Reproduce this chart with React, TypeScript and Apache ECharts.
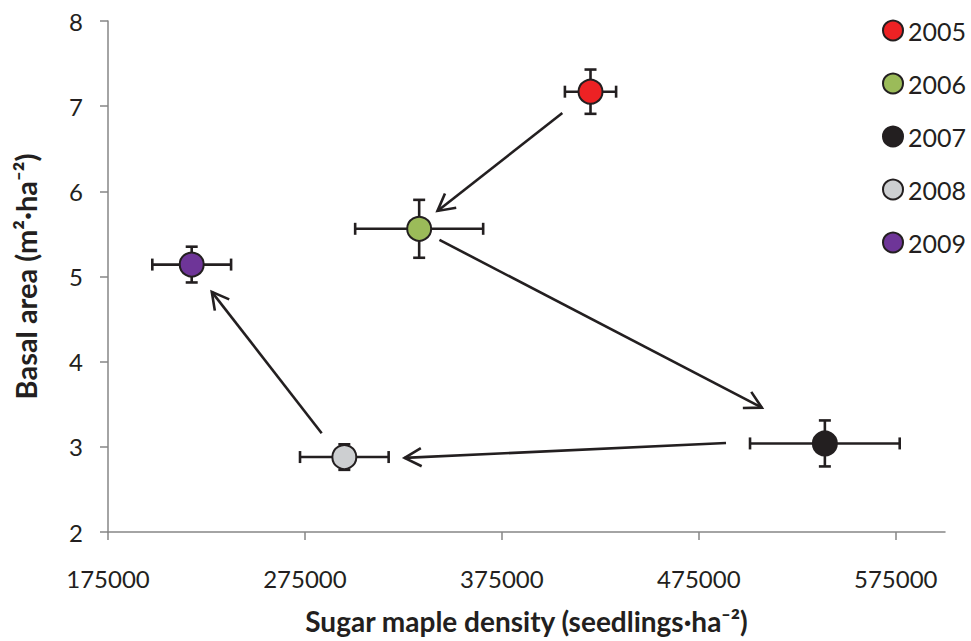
import React, { useEffect, useRef } from "react";
import * as echarts from "echarts";

const years = ["2005", "2006", "2007", "2008", "2009"];
const density = [420000, 333000, 539000, 295000, 217500];
const densityErr = [13000, 32500, 38000, 22500, 20000];
const basal = [7.17, 5.56, 3.04, 2.88, 5.14];
const basalErr = [0.26, 0.34, 0.27, 0.15, 0.21];
const colors = ["#ED2224", "#9BBB59", "#231F20", "#CDCFD1", "#6E3598"];
const xTicks = [175000, 275000, 375000, 475000, 575000];
// arrows: [fromX, fromY, toX, toY] (data units)
const arrowFromX = [405700, 343300, 488800, 283500];
const arrowFromY = [6.92, 5.43, 3.045, 3.16];
const arrowToX = [342300, 507000, 325600, 227700];
const arrowToY = [5.77, 3.46, 2.87, 4.82];

const FONT = "Lato";
const INK = "#231F20";

export default function App() {
  const ref = useRef<HTMLDivElement>(null);
  useEffect(() => {
    if (!ref.current) return;
    const chart = echarts.init(ref.current, null, { renderer: "svg" });

    const errData = years.map((_, i) => [density[i], basal[i], densityErr[i], basalErr[i]]);
    const arrowData = arrowFromX.map((_, i) => [arrowFromX[i], arrowFromY[i], arrowToX[i], arrowToY[i]]);

    const option: any = {
      animation: false,
      backgroundColor: "#ffffff",
      textStyle: { fontFamily: FONT },
      grid: { left: 108, right: 26, top: 21, bottom: 109, containLabel: false, outerBoundsMode: "none" },
      legend: {
        orient: "vertical",
        right: 0,
        top: 13,
        itemWidth: 20,
        itemHeight: 20,
        itemGap: 28,
        icon: "circle",
        data: years,
        textStyle: { fontFamily: FONT, fontSize: 25, color: INK, padding: [0, 0, 0, 0] },
      },
      xAxis: {
        type: "value",
        min: 175000,
        max: 600000,
        splitLine: { show: false },
        axisLine: { lineStyle: { color: "#868686", width: 1.5 } },
        axisTick: { show: true, length: 8, customValues: xTicks, lineStyle: { color: "#868686", width: 1.5 } },
        axisLabel: {
          customValues: xTicks,
          formatter: (v: number) => String(v),
          fontFamily: FONT,
          fontSize: 24,
          color: INK,
          margin: 34,
        },
        name: "Sugar maple density (seedlings·ha⁻²)",
        nameLocation: "middle",
        nameGap: 75,
        nameTextStyle: { fontFamily: FONT, fontSize: 28, fontWeight: "bold", color: INK },
      },
      yAxis: {
        type: "value",
        min: 2,
        max: 8,
        interval: 1,
        splitLine: { show: false },
        axisLine: { show: true, lineStyle: { color: "#868686", width: 1.5 } },
        axisTick: { show: true, length: 8, lineStyle: { color: "#868686", width: 1.5 } },
        axisLabel: { fontFamily: FONT, fontSize: 24, color: INK, margin: 25 },
        name: "Basal area (m²·ha⁻²)",
        nameLocation: "middle",
        nameGap: 68,
        nameTextStyle: { fontFamily: FONT, fontSize: 29, fontWeight: "bold", color: INK },
      },
      series: [
        {
          type: "custom",
          name: "errors",
          z: 2,
          encode: { x: 0, y: 1 },
          data: errData,
          renderItem: (params: any, api: any) => {
            const x = api.value(0), y = api.value(1), ex = api.value(2), ey = api.value(3);
            const c = api.coord([x, y]);
            const l = api.coord([x - ex, y]);
            const r = api.coord([x + ex, y]);
            const t = api.coord([x, y + ey]);
            const b = api.coord([x, y - ey]);
            const cap = 6;
            const style = { stroke: INK, lineWidth: 2.6, fill: "none" };
            return {
              type: "group",
              children: [
                { type: "line", shape: { x1: l[0], y1: c[1], x2: r[0], y2: c[1] }, style },
                { type: "line", shape: { x1: l[0], y1: c[1] - cap, x2: l[0], y2: c[1] + cap }, style },
                { type: "line", shape: { x1: r[0], y1: c[1] - cap, x2: r[0], y2: c[1] + cap }, style },
                { type: "line", shape: { x1: c[0], y1: t[1], x2: c[0], y2: b[1] }, style },
                { type: "line", shape: { x1: c[0] - cap, y1: t[1], x2: c[0] + cap, y2: t[1] }, style },
                { type: "line", shape: { x1: c[0] - cap, y1: b[1], x2: c[0] + cap, y2: b[1] }, style },
              ],
            };
          },
        },
        {
          type: "custom",
          name: "arrows",
          z: 2,
          encode: { x: [0, 2], y: [1, 3] },
          data: arrowData,
          renderItem: (params: any, api: any) => {
            const p1 = api.coord([api.value(0), api.value(1)]);
            const p2 = api.coord([api.value(2), api.value(3)]);
            const ang = Math.atan2(p2[1] - p1[1], p2[0] - p1[0]);
            const hl = 19, ha = 0.5;
            const a1 = [p2[0] - hl * Math.cos(ang - ha), p2[1] - hl * Math.sin(ang - ha)];
            const a2 = [p2[0] - hl * Math.cos(ang + ha), p2[1] - hl * Math.sin(ang + ha)];
            const style = { stroke: INK, lineWidth: 2.6, fill: "none" };
            return {
              type: "group",
              children: [
                { type: "line", shape: { x1: p1[0], y1: p1[1], x2: p2[0], y2: p2[1] }, style },
                { type: "polyline", shape: { points: [a1, p2, a2] }, style },
              ],
            };
          },
        },
        ...years.map((yr, i) => ({
          type: "scatter",
          name: yr,
          z: 5,
          symbol: "circle",
          symbolSize: 24,
          itemStyle: { color: colors[i], borderColor: INK, borderWidth: 2, opacity: 1 },
          data: [[density[i], basal[i]]],
        })),
      ],
    };
    chart.setOption(option);
    return () => chart.dispose();
  }, []);
  return (
    <div
      ref={ref}
      style={{ position: "absolute", left: 0, top: 0, width: 971, height: 641 }}
    />
  );
}
